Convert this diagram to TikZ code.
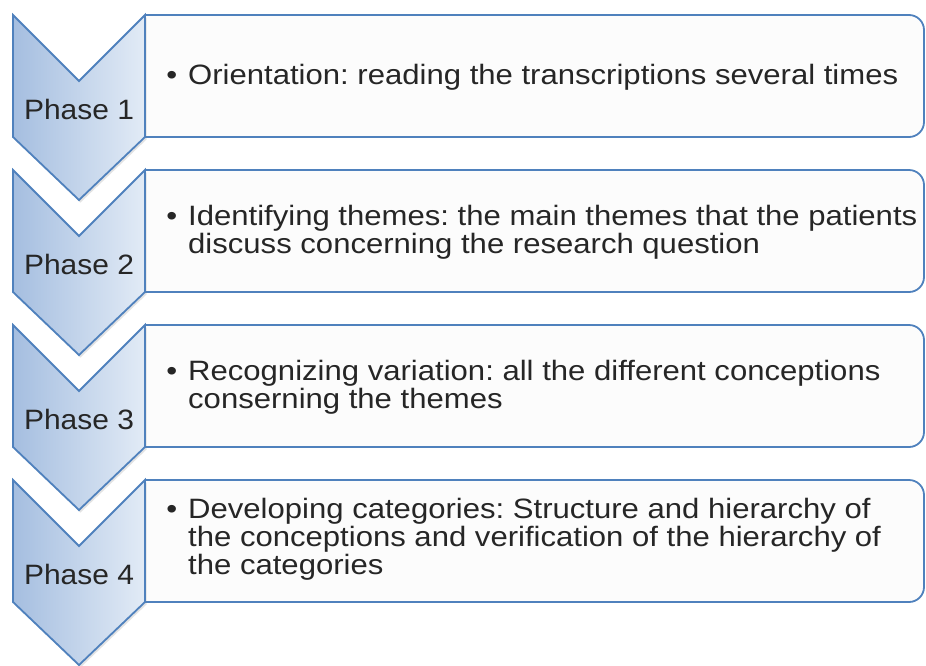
\documentclass[tikz,border=0pt]{standalone}
\usepackage{fontspec}
\setmainfont{Liberation Sans}[FakeStretch=1.07]
\newfontfamily\itemfont{Liberation Sans}[FakeStretch=1.11]
\usetikzlibrary{shadows}
\definecolor{edgeblue}{RGB}{79,129,189}
\definecolor{shadeL}{RGB}{165,190,224}
\definecolor{shadeR}{RGB}{226,235,246}
\definecolor{txt}{RGB}{38,38,38}
\definecolor{boxfill}{RGB}{252,252,252}
\begin{document}
\frenchspacing
\begin{tikzpicture}[x=1pt,y=-1pt,
  chev/.style={draw=edgeblue,line width=1.8pt,line join=miter,left color=shadeL,right color=shadeR,
    drop shadow={shadow xshift=1.5pt,shadow yshift=-2.5pt,opacity=0.22}},
  boxline/.style={draw=edgeblue,line width=1.8pt,fill=boxfill},
  phase/.style={font=\fontsize{28}{28}\selectfont,text=txt,inner sep=0pt},
  item/.style={font=\itemfont\fontsize{28}{28}\selectfont\frenchspacing,text=txt,align=left,anchor=west,inner sep=0pt}]
\useasboundingbox (0,0) rectangle (926,665);
\foreach \t in {15,170,325,480}{
  \begin{scope}
    \clip (145,\t-5) rectangle (930,\t+130);
    \draw[boxline,rounded corners=15pt] (100,\t) rectangle (924,\t+122);
  \end{scope}
  \path[chev] (13,\t) -- (79,\t+66) -- (145,\t) -- (145,\t+122) -- (79,\t+185) -- (13,\t+122) -- cycle;
}
\node[phase] (p1) at (79,109) {Phase 1};
\node[phase] (p2) at (79,264) {Phase 2};
\node[phase] (p3) at (79,419) {Phase 3};
\node[phase] (p4) at (79,574) {Phase 4};
\node[item] (t1) at (188,77) {\llap{\textbullet\hspace{11pt}}Orientation: reading the transcriptions several times};
\node[item] (t2) at (188,232) {\llap{\textbullet\hspace{11pt}}Identifying themes: the main themes that the patients\\discuss concerning the research question};
\node[item] (t3) at (188,387) {\llap{\textbullet\hspace{11pt}}Recognizing variation: all the different conceptions\\conserning the themes};
\node[item] (t4) at (188,539) {\llap{\textbullet\hspace{11pt}}Developing categories: Structure and hierarchy of\\the conceptions and verification of the hierarchy of\\the categories};
\end{tikzpicture}
\end{document}
